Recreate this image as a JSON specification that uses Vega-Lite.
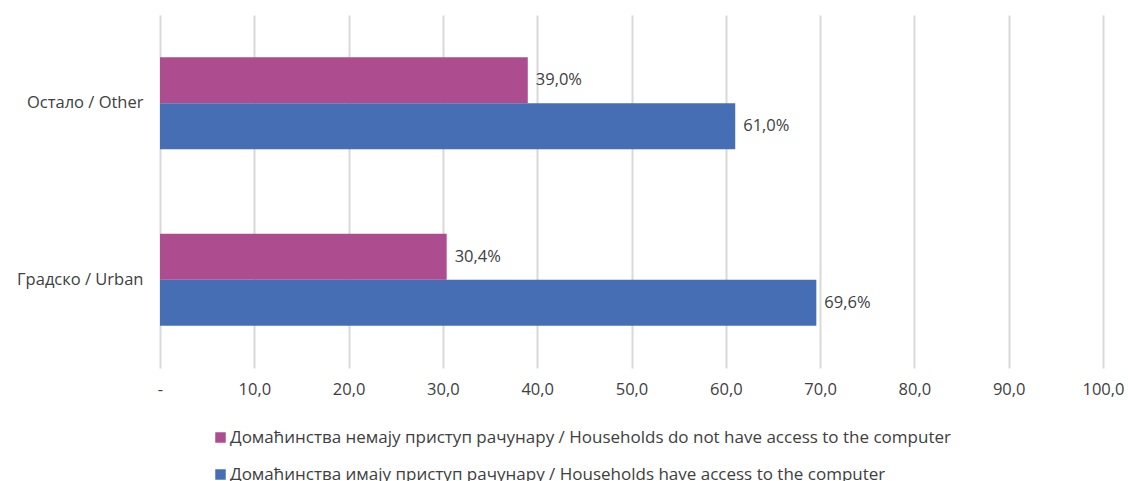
{
  "$schema": "https://vega.github.io/schema/vega-lite/v6.json",
  "width": 943,
  "height": 353,
  "autosize": {"type": "none"},
  "padding": {"left": 160, "top": 15, "right": 25, "bottom": 113},
  "background": "white",
  "config": {
    "font": "Open Sans",
    "view": {"stroke": null},
    "axis": {"labelFont": "Open Sans", "labelColor": "#404040", "labelFontSize": 16.5}
  },
  "data": {
    "values": [
      {"area": "Остало / Other", "series": "Домаћинства немају приступ рачунару / Households do not have access to the computer", "value": 39.0},
      {"area": "Остало / Other", "series": "Домаћинства имају приступ рачунару / Households have access to the computer", "value": 61.0},
      {"area": "Градско / Urban", "series": "Домаћинства немају приступ рачунару / Households do not have access to the computer", "value": 30.4},
      {"area": "Градско / Urban", "series": "Домаћинства имају приступ рачунару / Households have access to the computer", "value": 69.6}
    ]
  },
  "transform": [
    {"calculate": "replace(format(datum.value, '.1f'), '.', ',') + '%'", "as": "label"}
  ],
  "encoding": {
    "y": {
      "field": "area", "type": "nominal",
      "sort": ["Остало / Other", "Градско / Urban"],
      "scale": {"paddingInner": 0.48, "paddingOuter": 0.24},
      "axis": {"title": null, "domain": false, "ticks": false, "labelPadding": 17, "grid": false, "labelLimit": 300}
    },
    "yOffset": {
      "field": "series", "type": "nominal",
      "sort": ["Домаћинства немају приступ рачунару / Households do not have access to the computer", "Домаћинства имају приступ рачунару / Households have access to the computer"]
    },
    "x": {
      "field": "value", "type": "quantitative",
      "scale": {"domain": [0, 100], "nice": false},
      "axis": {
        "title": null, "domain": false, "ticks": false,
        "values": [0, 10, 20, 30, 40, 50, 60, 70, 80, 90, 100],
        "labelOverlap": false, "labelBound": false, "labelFlush": false,
        "grid": true, "gridColor": "#d9d9d9", "gridWidth": 2,
        "labelPadding": 13,
        "labelExpr": "datum.value == 0 ? '-' : replace(format(datum.value, '.1f'), '.', ',')"
      }
    }
  },
  "layer": [
    {
      "mark": {"type": "bar"},
      "encoding": {
        "color": {
          "field": "series", "type": "nominal",
          "sort": ["Домаћинства немају приступ рачунару / Households do not have access to the computer", "Домаћинства имају приступ рачунару / Households have access to the computer"],
          "scale": {"range": ["#AD4C8E", "#466EB4"]},
          "legend": {
            "title": null, "orient": "none", "legendX": 52, "legendY": 414,
            "direction": "vertical", "symbolType": "square", "symbolSize": 110,
            "symbolStrokeWidth": 0, "labelFontSize": 17, "labelColor": "#404040",
            "labelFont": "Open Sans", "rowPadding": 19, "labelOffset": 1, "labelLimit": 1000
          }
        }
      }
    },
    {
      "mark": {"type": "text", "align": "left", "dx": 8, "fontSize": 16.5, "color": "#404040", "font": "Open Sans"},
      "encoding": {"text": {"field": "label"}}
    }
  ]
}
